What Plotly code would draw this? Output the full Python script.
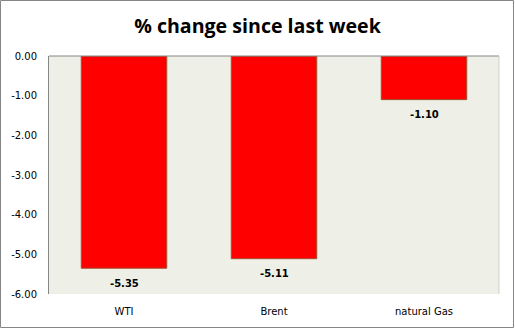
import plotly.graph_objects as go

categories = ["WTI", "Brent", "natural Gas"]
values = [-5.35, -5.11, -1.10]
tick_vals = [0, -1, -2, -3, -4, -5, -6]
tick_text = ["0.00", "-1.00", "-2.00", "-3.00", "-4.00", "-5.00", "-6.00"]

W, H = 515, 329
L, R, T, B = 49, 16, 56, 35
pw, ph = W - L - R, H - T - B

fig = go.Figure()
fig.add_trace(go.Bar(
    x=categories, y=values, width=0.57,
    marker=dict(color="#FF0000", line=dict(color="#A0522D", width=1)),
))
for c, v in zip(categories, values):
    fig.add_annotation(x=c, y=v, text=f"<b>{v:.2f}</b>", showarrow=False,
                       yshift=-15, yanchor="middle",
                       font=dict(family="DejaVu Sans", size=10, color="#000000"))
fig.update_layout(
    width=W, height=H, margin=dict(l=L, r=R, t=T, b=B),
    paper_bgcolor="white", plot_bgcolor="#EEF0E8",
    showlegend=False,
    title=dict(text="<b>% change since last week</b>", x=0.5, xanchor="center",
               y=1 - 26 / H, yanchor="middle",
               font=dict(family="Open Sans", size=19.6, color="#000000")),
    xaxis=dict(showgrid=False, showline=False, ticks="", ticklabelstandoff=10,
               tickfont=dict(family="DejaVu Sans", size=10, color="#000000")),
    yaxis=dict(range=[-6, 0], tickvals=tick_vals, ticktext=tick_text,
               showgrid=False, zeroline=False, showline=True, linecolor="#868686",
               linewidth=1, ticks="", ticklen=0, ticklabelstandoff=9,
               tickfont=dict(family="DejaVu Sans", size=10, color="#000000")),
    shapes=[
        dict(type="line", xref="paper", yref="paper", x0=0, x1=1, y0=1, y1=1,
             line=dict(color="#868686", width=1)),
        dict(type="line", xref="paper", yref="paper", x0=1, x1=1, y0=0, y1=1,
             line=dict(color="#D0D0D0", width=1)),
        dict(type="rect", xref="paper", yref="paper",
             x0=-(L - 0.5) / pw, x1=1 + (R - 1.5) / pw,
             y0=-(B - 1.5) / ph, y1=1 + (T - 0.5) / ph,
             line=dict(color="#868686", width=1)),
    ],
)
fig.write_html("out.html")
